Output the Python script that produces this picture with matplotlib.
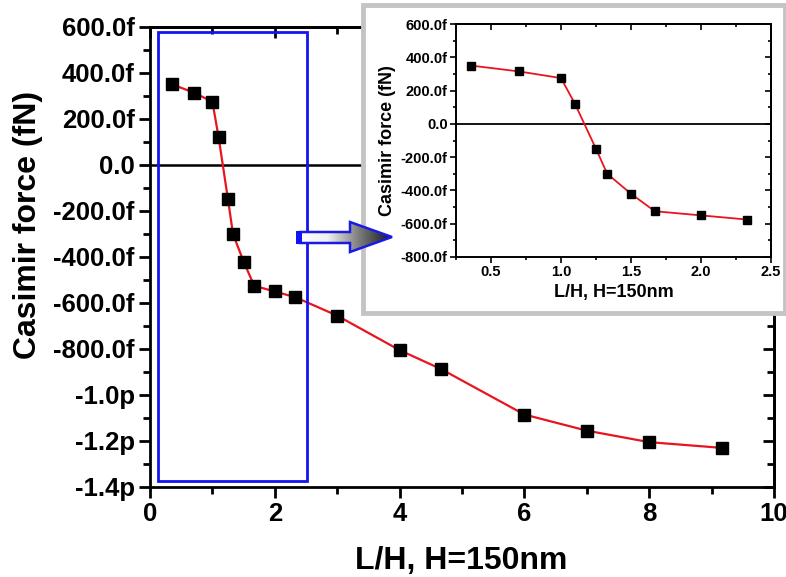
import numpy as np
import matplotlib
matplotlib.use("Agg")
import matplotlib.pyplot as plt
from matplotlib.patches import Rectangle, Polygon
from matplotlib.ticker import MultipleLocator, FixedLocator
from matplotlib.colors import LinearSegmentedColormap

plt.rcParams['font.family'] = ['Liberation Sans', 'DejaVu Sans']
plt.rcParams['font.weight'] = 'bold'

# ---- data (L/H, Casimir force in fN) ----
lh = [0.36, 0.70, 1.00, 1.10, 1.25, 1.33, 1.50, 1.67, 2.00, 2.33,
      3.00, 4.00, 4.67, 6.00, 7.00, 8.00, 9.17]
force_fN = [350, 315, 275, 120, -150, -300, -420, -525, -550, -575,
            -655, -805, -888, -1085, -1155, -1205, -1230]
n_inset = 10

main_yticks = [600, 400, 200, 0, -200, -400, -600, -800, -1000, -1200, -1400]
main_ylabels = ["600.0f", "400.0f", "200.0f", "0.0", "-200.0f", "-400.0f",
                "-600.0f", "-800.0f", "-1.0p", "-1.2p", "-1.4p"]
main_xticks = [0, 2, 4, 6, 8, 10]

inset_yticks = [600, 400, 200, 0, -200, -400, -600, -800]
inset_ylabels = ["600.0f", "400.0f", "200.0f", "0.0", "-200.0f", "-400.0f",
                 "-600.0f", "-800.0f"]
inset_xticks = [0.5, 1.0, 1.5, 2.0, 2.5]
inset_xlabels = ["0.5", "1.0", "1.5", "2.0", "2.5"]

W, H = 786, 577
fig = plt.figure(figsize=(W / 100, H / 100), dpi=100)

def fx(px):
    return px / W

def fy(py):
    return 1 - py / H

# ---- main axes ----
L, R, T, B = 150, 774, 27, 487
ax = fig.add_axes([fx(L), fy(B), fx(R) - fx(L), fy(T) - fy(B)], zorder=0)
ax.plot(lh, force_fN, color='#e8141e', lw=1.6, marker='s', ms=8.5,
        mfc='black', mec='black', zorder=3)
ax.axhline(0, color='black', lw=1.8, zorder=2)
ax.set_xlim(0, 10)
ax.set_ylim(-1400, 600)
ax.yaxis.set_major_locator(FixedLocator(main_yticks))
ax.set_yticklabels(main_ylabels)
ax.xaxis.set_major_locator(FixedLocator(main_xticks))
ax.xaxis.set_minor_locator(MultipleLocator(1))
ax.yaxis.set_minor_locator(MultipleLocator(100))
for s in ax.spines.values():
    s.set_linewidth(2.0)
ax.tick_params(which='both', direction='out', width=2.0, labelsize=18.5,
               top=False, right=False, pad=3)
ax.tick_params(which='major', length=8)
ax.tick_params(which='minor', length=5)
ax.set_xlabel("L/H, H=150nm", fontsize=23, fontweight='bold')
ax.set_ylabel("Casimir force (fN)", fontsize=23, fontweight='bold')
ax.xaxis.set_label_coords(0.499, -0.128)
ax.yaxis.set_label_coords(-0.171, 0.57)

# mirrored ticks pointing inward on top/right
secx = ax.secondary_xaxis('top')
secx.xaxis.set_major_locator(FixedLocator(main_xticks))
secx.xaxis.set_minor_locator(MultipleLocator(1))
secx.tick_params(which='both', direction='in', width=2.0, labeltop=False)
secx.tick_params(which='major', length=8)
secx.tick_params(which='minor', length=5)
secx.spines['top'].set_linewidth(2.0)
secy = ax.secondary_yaxis('right')
secy.yaxis.set_major_locator(FixedLocator(main_yticks))
secy.yaxis.set_minor_locator(MultipleLocator(100))
secy.tick_params(which='both', direction='in', width=2.0, labelright=False)
secy.tick_params(which='major', length=8)
secy.tick_params(which='minor', length=5)
secy.spines['right'].set_linewidth(2.0)

# blue zoom rectangle (data coords)
ax.add_patch(Rectangle((0.13, -1374), 2.38, 1952, fill=False,
                       edgecolor='#1414f0', lw=2.0, zorder=4))

# ---- inset frame ----
fig.patches.append(Rectangle((fx(363), fy(313)), fx(785) - fx(363), fy(5) - fy(313),
                             transform=fig.transFigure, facecolor='white',
                             edgecolor='#c4c4c4', lw=3.5, zorder=1))

# ---- inset axes ----
iL, iR, iT, iB = 456, 771, 24, 257
axi = fig.add_axes([fx(iL), fy(iB), fx(iR) - fx(iL), fy(iT) - fy(iB)], zorder=2)
axi.plot(lh[:n_inset], force_fN[:n_inset], color='#e8141e', lw=1.3, marker='s',
         ms=6, mfc='black', mec='black', zorder=3)
axi.axhline(0, color='black', lw=1.3, zorder=2)
axi.set_xlim(0.25, 2.5)
axi.set_ylim(-800, 600)
axi.yaxis.set_major_locator(FixedLocator(inset_yticks))
axi.set_yticklabels(inset_ylabels)
axi.xaxis.set_major_locator(FixedLocator(inset_xticks))
axi.set_xticklabels(inset_xlabels)
axi.xaxis.set_minor_locator(MultipleLocator(0.25))
axi.yaxis.set_minor_locator(MultipleLocator(100))
for s in axi.spines.values():
    s.set_linewidth(1.4)
axi.tick_params(which='both', direction='out', width=1.2, labelsize=10.5,
                top=False, right=False, pad=2)
axi.tick_params(which='major', length=4)
axi.tick_params(which='minor', length=2.5)
axi.set_xlabel("L/H, H=150nm", fontsize=13, fontweight='bold', labelpad=3)
axi.set_ylabel("Casimir force (fN)", fontsize=13, fontweight='bold', labelpad=3)
sx2 = axi.secondary_xaxis('top')
sx2.xaxis.set_major_locator(FixedLocator(inset_xticks))
sx2.xaxis.set_minor_locator(MultipleLocator(0.25))
sx2.tick_params(which='both', direction='in', width=1.2, labeltop=False)
sx2.tick_params(which='major', length=4)
sx2.tick_params(which='minor', length=2.5)
sx2.spines['top'].set_linewidth(1.4)
sy2 = axi.secondary_yaxis('right')
sy2.yaxis.set_major_locator(FixedLocator(inset_yticks))
sy2.yaxis.set_minor_locator(MultipleLocator(100))
sy2.tick_params(which='both', direction='in', width=1.2, labelright=False)
sy2.tick_params(which='major', length=4)
sy2.tick_params(which='minor', length=2.5)
sy2.spines['right'].set_linewidth(1.4)

# ---- gradient arrow overlay (pixel coords) ----
ov = fig.add_axes([0, 0, 1, 1], zorder=3)
ov.set_xlim(0, W)
ov.set_ylim(H, 0)
ov.axis('off')
ov.patch.set_alpha(0)
arrow_pts = [(300, 232), (350, 232), (350, 222), (392, 237),
             (350, 252), (350, 243), (300, 243)]
poly = Polygon(arrow_pts, closed=True, facecolor='none', edgecolor='#1a1ae6',
               lw=1.8, zorder=5)
grad = np.linspace(0, 1, 256).reshape(1, -1)
cmap = LinearSegmentedColormap.from_list(
    'g', [(0, '#ffffff'), (0.3, '#f0f0f0'), (0.65, '#7a7a7a'), (1, '#151515')])
im = ov.imshow(grad, cmap=cmap, extent=(300, 392, 252, 222), aspect='auto',
               zorder=4)
clip = Polygon(arrow_pts, closed=True, transform=ov.transData)
im.set_clip_path(clip)
ov.add_patch(poly)
ov.add_patch(Rectangle((296, 231), 6, 13, facecolor='#1414f0',
                       edgecolor='none', zorder=6))
ov.set_xlim(0, W)
ov.set_ylim(H, 0)

fig.savefig("out.png", dpi=100)
